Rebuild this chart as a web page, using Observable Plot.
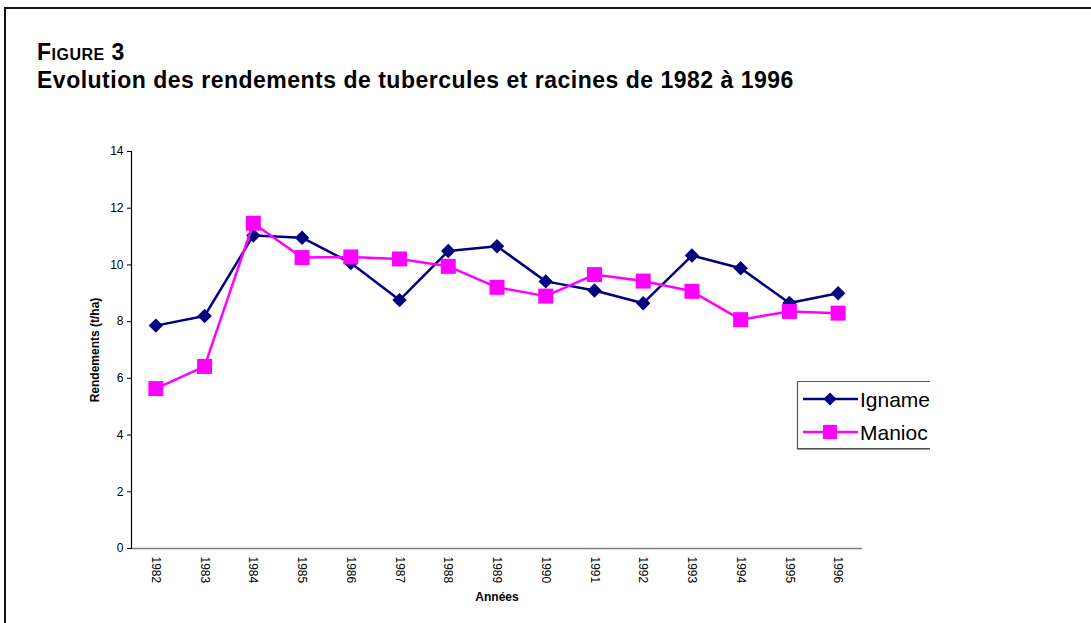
<!DOCTYPE html>
<html><head><meta charset="utf-8">
<script src="https://cdn.jsdelivr.net/npm/d3@7"></script>
<script src="https://cdn.jsdelivr.net/npm/@observablehq/plot@0.6"></script>
<style>
body{margin:0;background:#fff;}
#wrap{position:relative;width:1091px;height:623px;overflow:hidden;font-family:"Liberation Sans",Arial,Helvetica,sans-serif;color:#000;}
#frame{position:absolute;left:4px;top:7px;width:2000px;height:2000px;border-left:2px solid #111;border-top:2px solid #111;}
.title{position:absolute;left:37px;font-weight:bold;font-size:23px;line-height:23px;letter-spacing:0.5px;white-space:nowrap;}
#t1{top:41px;font-variant:small-caps;}
#t2{top:69px;}
#chart{position:absolute;left:0;top:0;}
#legend{position:absolute;left:796px;top:380px;}
</style>
</head><body>
<div id="wrap">
  <div id="frame"></div>
  <div id="chart"></div>
  <div class="title" id="t1">Figure 3</div>
  <div class="title" id="t2">Evolution des rendements de tubercules et racines de 1982 à 1996</div>
  <div id="legend"></div>
</div>
<script>
const years = ["1982","1983","1984","1985","1986","1987","1988","1989","1990","1991","1992","1993","1994","1995","1996"];
const igname = [7.86, 8.2, 11.04, 10.96, 10.07, 8.76, 10.49, 10.66, 9.42, 9.1, 8.65, 10.33, 9.88, 8.66, 9.0];
const manioc = [5.64, 6.42, 11.47, 10.26, 10.28, 10.21, 9.95, 9.21, 8.9, 9.66, 9.43, 9.07, 8.07, 8.36, 8.3];
const yTicks = [0, 2, 4, 6, 8, 10, 12, 14];
const seriesNames = ["Igname", "Manioc"];
const seriesColors = ["#000080", "#FF00FF"];
const seriesSymbols = ["diamond2", "square"];

const ign = years.map((y, i) => ({year: y, value: igname[i]}));
const man = years.map((y, i) => ({year: y, value: manioc[i]}));

const font = "Liberation Sans, Arial, Helvetica, sans-serif";
const chart = Plot.plot({
  width: 1091, height: 623,
  marginLeft: 131, marginRight: 229, marginTop: 151, marginBottom: 75,
  style: {fontFamily: font, background: "transparent", color: "#000"},
  x: {type: "point", domain: years, padding: 0.5, round: false},
  y: {domain: [0, 14]},
  marks: [
    Plot.ruleY([0], {stroke: "#808080", strokeWidth: 1.5}),
    Plot.frame({anchor: "left", stroke: "#000", strokeWidth: 1.2}),
    Plot.axisY({ticks: yTicks, tickSize: 4, tickPadding: 4, fontSize: 12, label: null, stroke: "#000", strokeWidth: 1}),
    Plot.axisX({tickSize: 0, tickRotate: 90, tickPadding: 8, fontSize: 12, label: null}),
    Plot.text(["Années"], {frameAnchor: "bottom", dy: 52, fontWeight: "bold", fontSize: 12}),
    Plot.text(["Rendements (t/ha)"], {frameAnchor: "left", textAnchor: "middle", dx: -36, rotate: -90, fontWeight: "bold", fontSize: 12}),
    Plot.line(ign, {x: "year", y: "value", stroke: seriesColors[0], strokeWidth: 2.5}),
    Plot.dot(ign, {x: "year", y: "value", symbol: seriesSymbols[0], r: 6.5, fill: seriesColors[0], stroke: "none"}),
    Plot.line(man, {x: "year", y: "value", stroke: seriesColors[1], strokeWidth: 2.5}),
    Plot.dot(man, {x: "year", y: "value", symbol: seriesSymbols[1], r: 8.46, fill: seriesColors[1], stroke: "none"})
  ]
});
document.getElementById("chart").appendChild(chart);

// Legend
const lg = d3.select("#legend").append("svg").attr("width", 160).attr("height", 72)
  .style("font-family", font).style("overflow", "visible");
lg.append("path").attr("d", "M134,1.5H1.5V68.5H134").attr("fill", "none").attr("stroke", "#555").attr("stroke-width", 1.2);
lg.append("line").attr("x1", 1).attr("x2", 134).attr("y1", 69.5).attr("y2", 69.5).attr("stroke", "#999").attr("stroke-width", 1);
const symMap = {diamond2: d3.symbolDiamond2, square: d3.symbolSquare};
const symSize = [110, 200];
seriesNames.forEach((name, i) => {
  const cy = i === 0 ? 19 : 52;
  lg.append("line").attr("x1", 7).attr("x2", 62).attr("y1", cy).attr("y2", cy)
    .attr("stroke", seriesColors[i]).attr("stroke-width", 2.5);
  lg.append("path").attr("transform", `translate(34,${cy})`)
    .attr("d", d3.symbol(symMap[seriesSymbols[i]], symSize[i])()).attr("fill", seriesColors[i]);
  lg.append("text").attr("x", 64).attr("y", cy).attr("dy", "0.36em").attr("font-size", 21).text(name);
});
</script>
</body></html>
